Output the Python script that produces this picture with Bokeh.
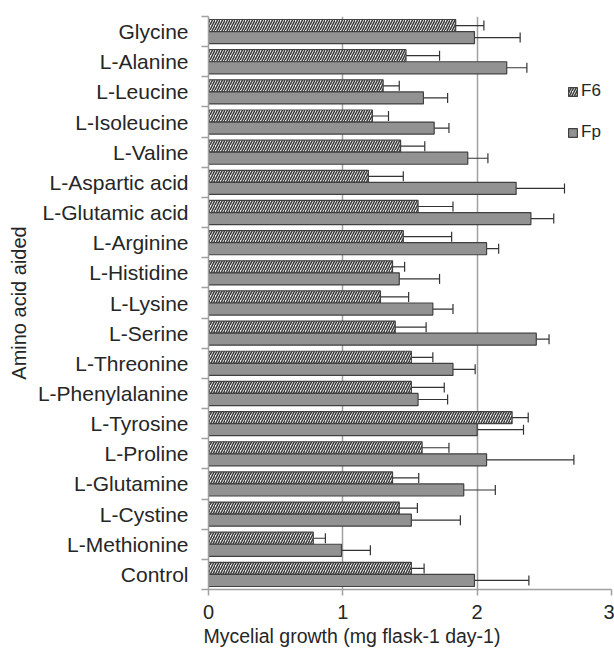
from bokeh.plotting import figure
from bokeh.embed import file_html
from bokeh.resources import INLINE
from bokeh.models import (ColumnDataSource, Range1d, FixedTicker, Whisker, TeeHead,
                          Legend, LegendItem, Title)

cats = ["Glycine", "L-Alanine", "L-Leucine", "L-Isoleucine", "L-Valine",
        "L-Aspartic acid", "L-Glutamic acid", "L-Arginine", "L-Histidine",
        "L-Lysine", "L-Serine", "L-Threonine", "L-Phenylalanine", "L-Tyrosine",
        "L-Proline", "L-Glutamine", "L-Cystine", "L-Methionine", "Control"]
f6 = [1.84, 1.47, 1.30, 1.22, 1.43, 1.19, 1.56, 1.45, 1.37, 1.28, 1.39, 1.51,
      1.51, 2.26, 1.59, 1.37, 1.42, 0.78, 1.51]
f6_err = [0.21, 0.25, 0.12, 0.12, 0.18, 0.26, 0.26, 0.36, 0.09, 0.21, 0.23, 0.16,
          0.245, 0.12, 0.20, 0.195, 0.135, 0.09, 0.095]
fp = [1.98, 2.22, 1.60, 1.68, 1.93, 2.29, 2.40, 2.07, 1.42, 1.67, 2.44, 1.82,
      1.56, 2.00, 2.07, 1.90, 1.51, 0.99, 1.98]
fp_err = [0.34, 0.15, 0.18, 0.11, 0.15, 0.36, 0.17, 0.09, 0.30, 0.15, 0.095, 0.165,
          0.22, 0.345, 0.65, 0.235, 0.365, 0.215, 0.405]
x_ticks = [0, 1, 2, 3]

n = len(cats)
centers = [n - 1 - i + 0.5 for i in range(n)]
bounds = [float(i) for i in range(n + 1)]

src_f6 = ColumnDataSource(dict(y=[c + 0.2 for c in centers], v=f6,
                               lo=[a - b for a, b in zip(f6, f6_err)],
                               hi=[a + b for a, b in zip(f6, f6_err)]))
src_fp = ColumnDataSource(dict(y=[c - 0.2 for c in centers], v=fp,
                               lo=[a - b for a, b in zip(fp, fp_err)],
                               hi=[a + b for a, b in zip(fp, fp_err)]))

FONT = "Liberation Sans"
TXT = "#262626"
AX = "#a0a0a0"

p = figure(frame_width=403, frame_height=573, x_range=Range1d(0, 3),
           y_range=Range1d(0, n),
           output_backend="svg", toolbar_location=None,
           min_border_left=208, min_border_right=3, min_border_top=16,
           min_border_bottom=0)
p.outline_line_color = None
p.background_fill_color = "white"

r_f6 = p.hbar(y="y", right="v", left=0, height=0.4, source=src_f6,
              fill_color="#f2f2f2", line_color="#404040", line_width=1.2,
              hatch_pattern="/", hatch_color="#3a3a3a", hatch_scale=5,
              hatch_weight=1.5)
r_fp = p.hbar(y="y", right="v", left=0, height=0.4, source=src_fp,
              fill_color="#929292", line_color="#404040", line_width=1.2)

for src in (src_f6, src_fp):
    w = Whisker(base="y", lower="lo", upper="hi", dimension="width", source=src,
                line_color="#333333", line_width=1.2,
                upper_head=TeeHead(size=10, line_color="#333333", line_width=1.2),
                lower_head=TeeHead(size=10, line_color="#333333", line_width=1.2))
    p.add_layout(w)

# x axis
p.xaxis.ticker = FixedTicker(ticks=x_ticks)
p.xaxis.axis_line_color = AX
p.xaxis.axis_line_width = 1.5
p.xaxis.major_tick_line_color = AX
p.xaxis.major_tick_line_width = 1.5
p.xaxis.major_tick_out = 6
p.xaxis.major_tick_in = 0
p.xaxis.minor_tick_line_color = None
p.xaxis.major_label_text_font = FONT
p.xaxis.major_label_text_font_size = "20px"
p.xaxis.major_label_text_color = TXT
p.xaxis.major_label_standoff = 9

# y axis
p.yaxis.ticker = FixedTicker(ticks=centers, minor_ticks=bounds)
p.yaxis.major_label_overrides = {c: name for c, name in zip(centers, cats)}
p.yaxis.axis_line_color = AX
p.yaxis.axis_line_width = 1.5
p.yaxis.major_tick_line_color = None
p.yaxis.major_tick_out = 0
p.yaxis.major_tick_in = 0
p.yaxis.minor_tick_line_color = AX
p.yaxis.minor_tick_line_width = 1.5
p.yaxis.minor_tick_out = 7
p.yaxis.minor_tick_in = 0
p.yaxis.major_label_text_font = FONT
p.yaxis.major_label_text_font_size = "21px"
p.yaxis.major_label_text_color = TXT
p.yaxis.major_label_standoff = 13
p.yaxis.axis_label = "Amino acid aided"
p.yaxis.axis_label_text_font = FONT
p.yaxis.axis_label_text_font_size = "20px"
p.yaxis.axis_label_text_font_style = "normal"
p.yaxis.axis_label_text_color = TXT
p.yaxis.axis_label_standoff = 5

p.xgrid.grid_line_color = AX
p.xgrid.grid_line_width = 1.5
p.ygrid.visible = False

xt = Title(text="Mycelial growth (mg flask-1 day-1)", align="left", offset=-5,
           text_font=FONT, text_font_size="19.5px", text_font_style="normal",
           text_color=TXT, standoff=2)
p.add_layout(xt, "below")

legend = Legend(items=[LegendItem(label="F6", renderers=[r_f6]),
                       LegendItem(label="Fp", renderers=[r_fp])],
                location=(359, 447), background_fill_alpha=0, border_line_alpha=0,
                padding=0, margin=0, glyph_width=11, glyph_height=11,
                label_height=20, label_standoff=3, spacing=21,
                label_text_font=FONT, label_text_font_size="17px",
                label_text_color=TXT)
p.add_layout(legend)

open("out.html", "w").write(file_html(p, INLINE))
